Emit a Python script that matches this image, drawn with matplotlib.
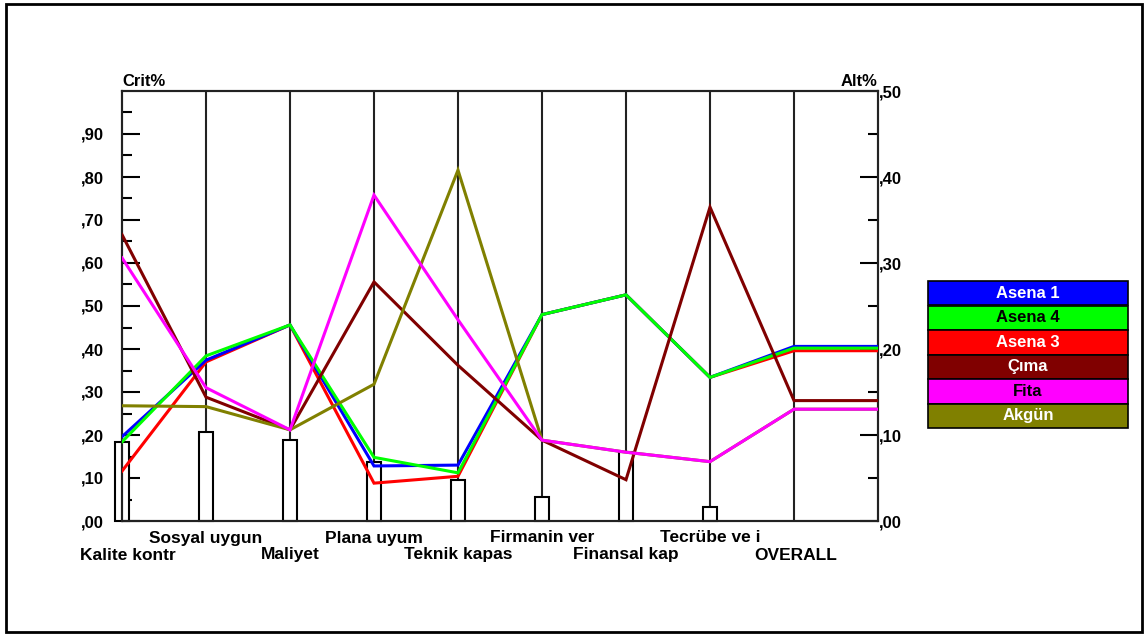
import matplotlib
matplotlib.use("Agg")
import matplotlib.pyplot as plt
from matplotlib.patches import Rectangle
import numpy as np

plt.rcParams['font.family'] = ['Liberation Sans', 'DejaVu Sans']
plt.rcParams['font.weight'] = 'bold'

criteria = ["Kalite kontr", "Sosyal uygun", "Maliyet", "Plana uyum", "Teknik kapas",
            "Firmanin ver", "Finansal kap", "Tecrübe ve i", "OVERALL"]
crit_weights = [0.184, 0.207, 0.188, 0.137, 0.095, 0.056, 0.160, 0.033]

alternatives = ["Asena 1", "Asena 4", "Asena 3", "Çıma", "Fita", "Akgün"]
colors = ["#0000FF", "#00FF00", "#FF0000", "#800000", "#FF00FF", "#808000"]
text_colors = ["white", "black", "white", "white", "black", "white"]

# Alt% per criterion (8 criteria) + OVERALL
asena1 = [9.8, 18.7, 22.8, 6.4, 6.5, 24.0, 26.3, 16.7, 20.3]
asena4 = [9.2, 19.2, 22.8, 7.4, 5.6, 24.0, 26.3, 16.7, 20.1]
asena3 = [5.8, 18.5, 22.8, 4.4, 5.2, 24.0, 26.3, 16.7, 19.8]
cima   = [33.3, 14.4, 10.6, 27.8, 18.1, 9.4, 4.8, 36.5, 14.0]
fita   = [30.6, 15.5, 10.6, 37.9, 23.4, 9.4, 8.0, 6.9, 13.0]
akgun  = [13.4, 13.3, 10.6, 15.9, 40.8, 9.4, 8.0, 6.9, 13.0]
series = [asena1, asena4, asena3, cima, fita, akgun]

W, H = 1144, 635
fig = plt.figure(figsize=(W / 100, H / 100), dpi=100)

def fx(px):
    return px / W

def fy(py):
    return 1 - py / H

L, R, T, B = 122, 878, 91, 521
ax = fig.add_axes([fx(L), fy(B), fx(R) - fx(L), fy(T) - fy(B)])
ax2 = ax.twinx()

n = len(criteria)
ax.set_xlim(0, n)
ax.set_ylim(0, 1.0)
ax2.set_ylim(0, 50)

# vertical criterion lines
for i in range(1, n):
    ax.axvline(i, color="#222222", lw=1.5, zorder=1)

# criterion weight bars
bars = ax.bar(np.arange(len(crit_weights)), crit_weights, width=0.17, color="white",
              edgecolor="black", linewidth=1.5, zorder=2)
for b in bars:
    b.set_clip_on(False)

# alternative lines (drawn on Alt% axis)
xs = list(range(n)) + [n]
draw_order = [2, 0, 1, 3, 5, 4]
for k in draw_order:
    vals = series[k]
    ys = vals + [vals[-1]]
    ax2.plot(xs, ys, color=colors[k], lw=2.2, zorder=3, solid_joinstyle="miter")

ax.set_zorder(ax2.get_zorder() - 1)
ax.patch.set_visible(True)
ax2.patch.set_visible(False)

# spines
for a in (ax, ax2):
    for s in a.spines.values():
        s.set_linewidth(1.5)
        s.set_color("#222222")

ax.set_xticks([])
ax.set_yticks(np.arange(0, 1.0, 0.1))
ax.set_yticks(np.arange(0.05, 1.0, 0.1), minor=True)
ax.set_yticklabels([",%02d" % round(v * 100) for v in np.arange(0, 1.0, 0.1)])
ax.tick_params(axis="y", which="major", direction="in", length=13, width=1.5,
               pad=13, labelsize=12)
ax.tick_params(axis="y", which="minor", direction="in", length=7, width=1.5)

ax2.set_yticks(np.arange(0, 51, 10))
ax2.set_yticks(np.arange(5, 50, 10), minor=True)
ax2.set_yticklabels([",%02d" % v for v in range(0, 51, 10)])
ax2.tick_params(axis="y", which="major", direction="in", length=13, width=1.5,
                pad=1, labelsize=12)
ax2.tick_params(axis="y", which="minor", direction="in", length=7, width=1.5)

# axis titles
fig.text(fx(122), fy(86), "Crit%", fontsize=12, fontweight="bold", ha="left", va="baseline")
fig.text(fx(877), fy(86), "Alt%", fontsize=12, fontweight="bold", ha="right", va="baseline")

# criterion labels, staggered
for i, name in enumerate(criteria):
    ypix = 555 if i % 2 == 0 else 538
    xpix = L + i * 84
    if i == 0:
        xpix = 128
    if i == n - 1:
        xpix = 796
    fig.text(fx(xpix), fy(ypix), name, fontsize=12.5, fontweight="bold",
             ha="center", va="center")

# legend
lx0, lx1, ly0 = 928, 1128, 281
rh = 24.5
for k, name in enumerate(alternatives):
    y_top = ly0 + k * rh
    fig.add_artist(Rectangle((fx(lx0), fy(y_top + rh)), fx(lx1) - fx(lx0), rh / H,
                             transform=fig.transFigure, facecolor=colors[k],
                             edgecolor="black", linewidth=1.2))
    fig.text(fx((lx0 + lx1) / 2), fy(y_top + rh / 2), name, color=text_colors[k],
             fontsize=12, fontweight="bold", ha="center", va="center")

# outer frame
fig.add_artist(Rectangle((fx(6), fy(632)), fx(1142) - fx(6), (632 - 4) / H,
                         transform=fig.transFigure, facecolor="none",
                         edgecolor="black", linewidth=2))

fig.savefig("out.png", dpi=100)
